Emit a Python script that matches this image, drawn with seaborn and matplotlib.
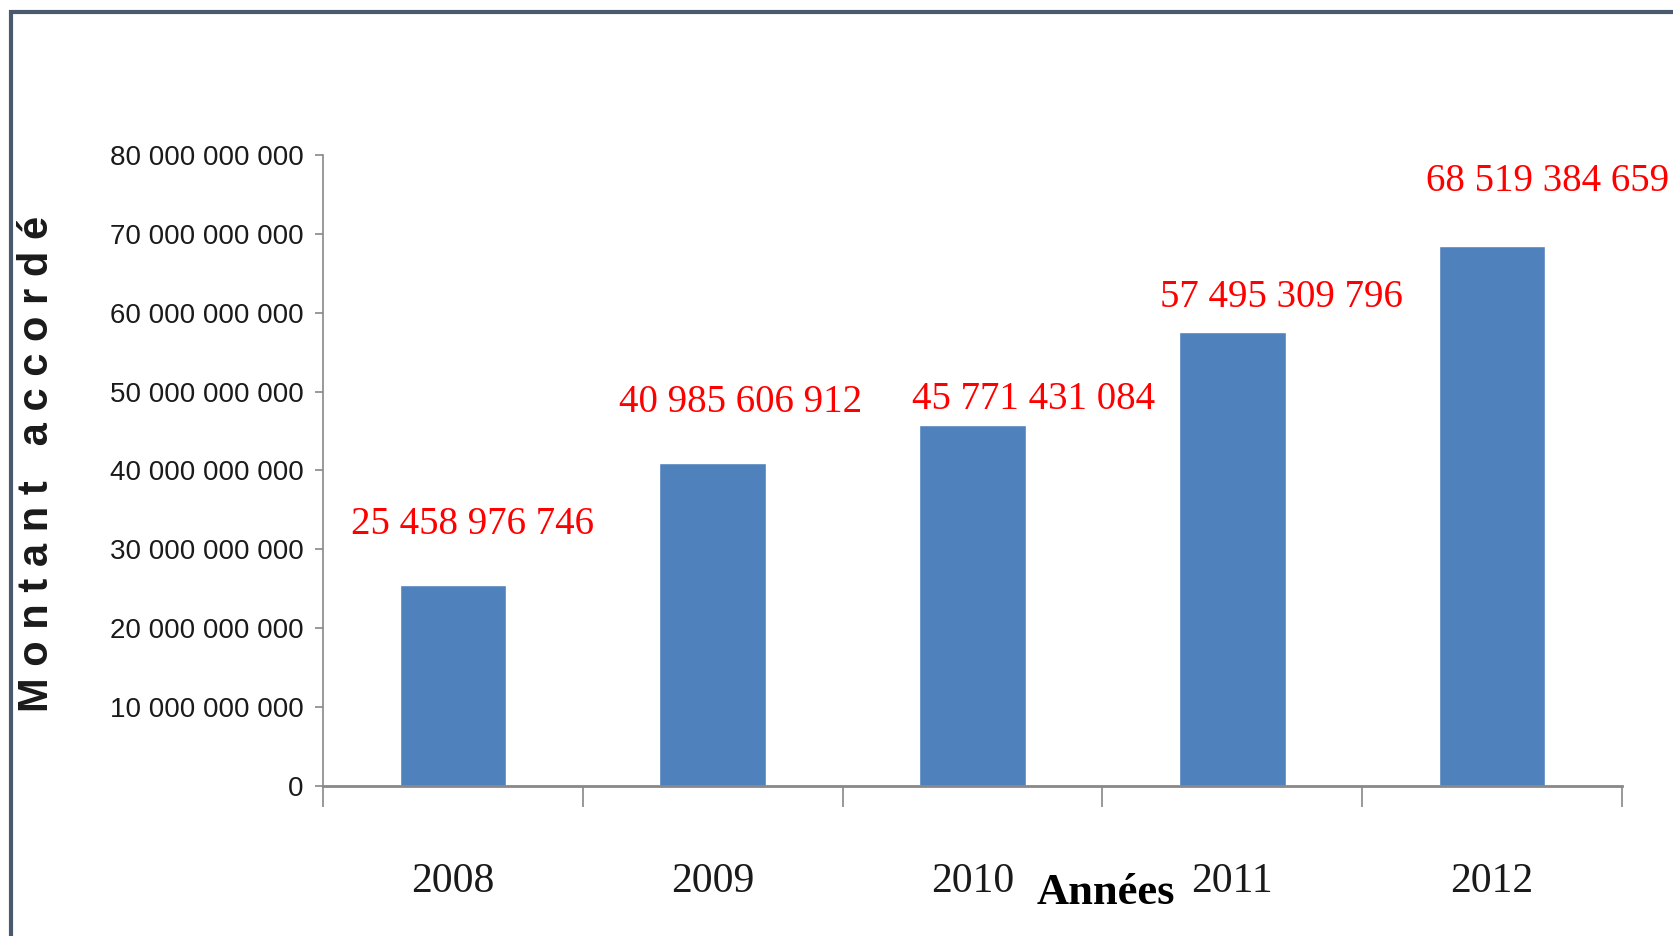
import matplotlib
matplotlib.use("Agg")
import matplotlib.pyplot as plt
import seaborn as sns
import pandas as pd
from matplotlib.patches import Rectangle
from matplotlib.ticker import FuncFormatter, FixedLocator

# -------------------------
# Data
# -------------------------
years = ["2008", "2009", "2010", "2011", "2012"]
amounts = [25458976746, 40985606912, 45771431084, 57495309796, 68519384659]
value_labels = ["25 458 976 746", "40 985 606 912", "45 771 431 084",
                "57 495 309 796", "68 519 384 659"]

# label offsets (pixels) from the top-centre of each bar
label_dx = [20, 28, 61, 49, 55]
label_dy = [61, 60, 25, 35, 64]

df = pd.DataFrame({"annee": years, "montant": amounts})

sns.set_theme(style="white")
plt.rcParams["font.family"] = ["Liberation Sans", "DejaVu Sans"]

fig = plt.figure(figsize=(16.73, 9.36), dpi=100)
ax = fig.add_axes([0.1931, 0.1603, 0.9695 - 0.1931, 0.6741])

sns.barplot(data=df, x="annee", y="montant", color="#4f81bd", saturation=1,
            width=0.41, ax=ax)

ax.set_xlim(-0.5, 4.5)
ax.set_ylim(0, 80e9)

# y axis
ax.set_yticks([i * 10e9 for i in range(9)])
ax.yaxis.set_major_formatter(FuncFormatter(lambda v, p: f"{v:,.0f}".replace(",", " ")))
ax.tick_params(axis="y", left=True, length=6, width=1.2, color="#888888",
               pad=8, labelsize=20, labelcolor="#1a1a1a")

# x axis: ticks at boundaries, labels at centres
ax.xaxis.set_major_locator(FixedLocator([-0.5, 0.5, 1.5, 2.5, 3.5, 4.5]))
ax.xaxis.set_minor_locator(FixedLocator(range(len(years))))
ax.set_xticklabels([], minor=False)
ax.set_xticklabels(years, minor=True, family=["Liberation Serif", "DejaVu Serif"],
                   fontsize=30, color="#1a1a1a")
ax.tick_params(axis="x", which="major", bottom=True, length=15, width=1.2, color="#888888")
ax.tick_params(axis="x", which="minor", bottom=False, length=0, pad=55)

for side in ["top", "right"]:
    ax.spines[side].set_visible(False)
ax.spines["left"].set_color("#888888")
ax.spines["left"].set_linewidth(1.2)
ax.spines["bottom"].set_color("#888888")
ax.spines["bottom"].set_linewidth(2)

ax.set_xlabel("")
ax.set_ylabel("")

# value labels
for i, (v, lab) in enumerate(zip(amounts, value_labels)):
    ax.annotate(lab, xy=(i, v), xytext=(label_dx[i], label_dy[i]),
                textcoords="offset pixels", ha="center", va="center",
                color="#ff0000", fontsize=28,
                family=["Liberation Serif", "DejaVu Serif"])

# axis titles
fig.text(37 / 1673, 1 - 464 / 936, "M o n t a n t   a c c o r d é", rotation=90,
         ha="center", va="center", fontsize=30, fontweight="bold", color="#1a1a1a")
fig.text(1106 / 1673, 1 - 893 / 936, "Années", ha="center", va="center",
         fontsize=32, fontweight="bold", color="#000000",
         family=["Liberation Serif", "DejaVu Serif"])

# outer frame
fig.patches.append(Rectangle((11 / 1673, -0.1), 1.2, 1.1 - 12 / 936,
                             transform=fig.transFigure, fill=False,
                             edgecolor="#4a5a6e", linewidth=3, clip_on=False))

fig.savefig("out.png", dpi=100)
